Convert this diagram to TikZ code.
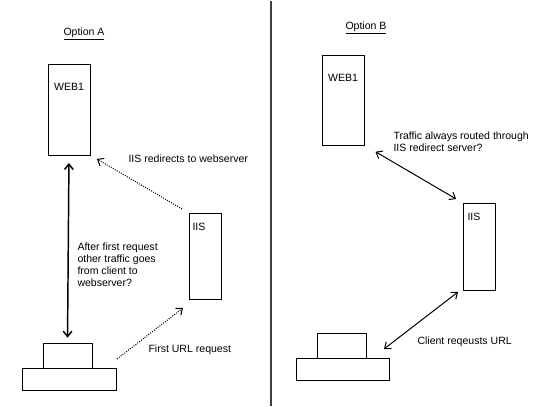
\documentclass[tikz,border=0pt]{standalone}
\usepackage{fontspec}
\setmainfont{Liberation Sans}
\usetikzlibrary{arrows.meta,calc}

\tikzset{every picture/.style={line width=0.75pt}}
\tikzset{
  srvbox/.style={draw, inner sep=0pt, outer sep=0pt},
  txt/.style={inner sep=0pt, font=\fontsize{7.9}{9}\selectfont},
  link/.style={{Straight Barb[length=4pt,width=6.5pt]}-{Straight Barb[length=4pt,width=6.5pt]}},
  redir/.style={densely dotted, -{Straight Barb[length=4pt,width=6.5pt]}}
}

\begin{document}
\begin{tikzpicture}[x=0.75pt,y=0.75pt,yscale=-1,xscale=1]
\path (0,0) rectangle (540,405);

%Straight Lines: divider
\draw [color={rgb, 255:red, 64; green, 64; blue, 64 }, line width=1.5] (271,0) -- (271,405) ;

%Option A
\node [txt] (titleA) at (84,33) {\underline{Option A}};
%Shape: Rectangle
\node [srvbox, minimum width=31.5pt, minimum height=68.25pt] (webA) at (69,108.5) {};
\node [txt] (webAlbl) at (69,86) {WEB1};
%Shape: Rectangle
\node [srvbox, minimum width=24pt, minimum height=64.5pt] (iisA) at (205,255) {};
\node [txt] (iisAlbl) at (199,226) {IIS};
%Shape: Rectangle
\node [srvbox, minimum width=36.75pt, minimum height=18.75pt] (pcAtop) at (67.5,354.5) {};
\node [srvbox, minimum width=70.5pt, minimum height=16.5pt] (pcAbase) at (69,378) {};

%Straight Lines
\draw [link, line width=1.1, shorten <=6, shorten >=4] (webA.south) -- (pcAtop.north) ;
\draw [redir, shorten <=6, shorten >=6] (iisA.north west) -- (webA.south east) ;
\draw [redir] ($(pcAbase.north east)+(1,-9)$) -- ($(iisA.south west)+(-6,9)$) ;

\node [txt, anchor=west] (redirA) at (128,158) {IIS redirects to webserver};
\node [txt, anchor=north west, align=left] (afterA) at (77,241) {After first request\\other traffic goes\\from client to\\webserver?};
\node [txt, anchor=west] (firstA) at (148,349) {First URL request};

%Option B
\node [txt] (titleB) at (366,27) {\underline{Option B}};
%Shape: Rectangle
\node [srvbox, minimum width=31.5pt, minimum height=67.5pt] (webB) at (343,99) {};
\node [txt] (webBlbl) at (343,77) {WEB1};
%Shape: Rectangle
\node [srvbox, minimum width=24pt, minimum height=65.25pt] (iisB) at (479,245.5) {};
\node [txt] (iisBlbl) at (474,216) {IIS};
%Shape: Rectangle
\node [srvbox, minimum width=36.75pt, minimum height=18.75pt] (pcBtop) at (341.5,344.5) {};
\node [srvbox, minimum width=69.75pt, minimum height=16.5pt] (pcBbase) at (342.5,368) {};

%Straight Lines
\draw [link, shorten <=10, shorten >=6] (webB.south east) -- (iisB.north west) ;
\draw [link] ($(iisB.south west)+(-5,2)$) -- ($(pcBbase.north east)+(-5,-9)$) ;

\node [txt, anchor=north west, align=left] (trafB) at (393,130) {Traffic always routed through\\IIS redirect server?};
\node [txt, anchor=west] (clientB) at (417,341) {Client reqeusts URL};

\end{tikzpicture}
\end{document}
